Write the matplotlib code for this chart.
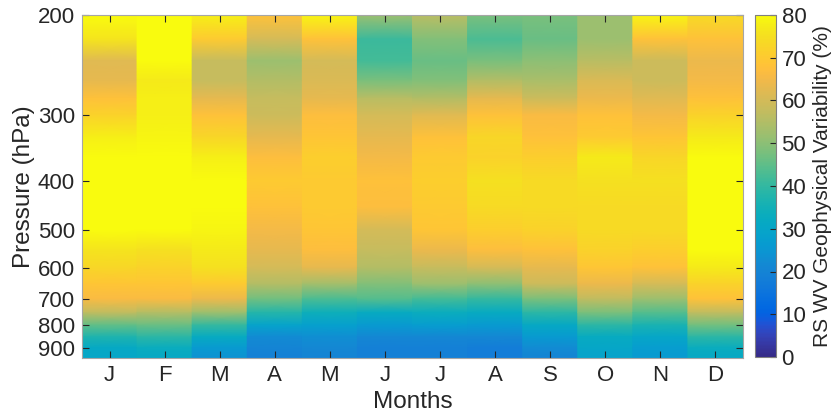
import numpy as np
import matplotlib
matplotlib.use("Agg")
import matplotlib.pyplot as plt
from matplotlib.colors import LinearSegmentedColormap

plt.rcParams['font.family'] = ['Liberation Sans', 'DejaVu Sans']

# ---- data ----
months = ['J', 'F', 'M', 'A', 'M', 'J', 'J', 'A', 'S', 'O', 'N', 'D']
levels = [200, 220, 240, 260, 280, 300, 330, 360, 400, 450,
          500, 550, 600, 650, 700, 750, 800, 850, 900, 950]

jan = [80, 76, 62, 63, 68, 72, 78, 80, 80, 80, 80, 76, 73, 69, 66, 57, 45, 37, 31, 30]
feb = [80, 80, 80, 77, 78, 78, 79, 80, 80, 80, 80, 75, 72, 69, 66, 55, 46, 39, 33, 31]
mar = [78, 70, 58, 58, 63, 68, 73, 78, 80, 80, 79, 77, 75, 70, 64, 52, 40, 32, 26, 24]
apr = [68, 60, 52, 55, 58, 59, 63, 67, 70, 68, 65, 63, 60, 55, 47, 38, 29, 22, 20, 19]
may = [79, 68, 60, 61, 63, 67, 69, 71, 70, 70, 69, 67, 63, 53, 43, 34, 28, 23, 21, 20]
jun = [52, 41, 42, 48, 56, 60, 63, 65, 68, 67, 60, 58, 55, 49, 44, 32, 26, 21, 19, 19]
jul = [56, 49, 46, 49, 55, 62, 68, 70, 71, 70, 69, 64, 58, 52, 42, 33, 27, 21, 19, 19]
aug = [48, 43, 48, 55, 63, 68, 73, 72, 75, 74, 71, 67, 60, 50, 40, 32, 26, 21, 18, 18]
sep = [48, 46, 50, 54, 59, 66, 68, 71, 74, 74, 72, 68, 63, 59, 48, 39, 31, 26, 22, 20]
oct_ = [52, 52, 56, 61, 64, 68, 70, 77, 75, 74, 74, 72, 69, 64, 57, 48, 39, 32, 30, 29]
nov = [79, 68, 59, 59, 62, 65, 69, 73, 75, 74, 74, 71, 68, 60, 52, 44, 36, 30, 27, 26]
dec = [74, 68, 64, 65, 68, 72, 77, 80, 80, 80, 80, 80, 77, 72, 68, 57, 47, 39, 33, 31]

data = np.array([jan, feb, mar, apr, may, jun, jul, aug, sep, oct_, nov, dec], dtype=float)

# parula-like colormap
_parula = [
    [0.2081, 0.1663, 0.5292], [0.2116, 0.1898, 0.5777], [0.2123, 0.2138, 0.6270],
    [0.2081, 0.2386, 0.6771], [0.1959, 0.2645, 0.7279], [0.1707, 0.2919, 0.7792],
    [0.1253, 0.3242, 0.8303], [0.0591, 0.3598, 0.8683], [0.0117, 0.3875, 0.8820],
    [0.0060, 0.4086, 0.8828], [0.0165, 0.4266, 0.8786], [0.0329, 0.4430, 0.8720],
    [0.0498, 0.4586, 0.8641], [0.0629, 0.4737, 0.8554], [0.0723, 0.4887, 0.8467],
    [0.0779, 0.5040, 0.8384], [0.0793, 0.5200, 0.8312], [0.0749, 0.5375, 0.8263],
    [0.0641, 0.5570, 0.8240], [0.0488, 0.5772, 0.8228], [0.0343, 0.5966, 0.8199],
    [0.0265, 0.6137, 0.8135], [0.0239, 0.6287, 0.8038], [0.0231, 0.6418, 0.7913],
    [0.0228, 0.6535, 0.7768], [0.0267, 0.6642, 0.7607], [0.0384, 0.6743, 0.7436],
    [0.0590, 0.6838, 0.7254], [0.0843, 0.6928, 0.7062], [0.1133, 0.7015, 0.6859],
    [0.1453, 0.7098, 0.6646], [0.1801, 0.7177, 0.6424], [0.2178, 0.7250, 0.6193],
    [0.2586, 0.7317, 0.5954], [0.3022, 0.7376, 0.5712], [0.3482, 0.7424, 0.5473],
    [0.3953, 0.7459, 0.5244], [0.4420, 0.7481, 0.5033], [0.4871, 0.7491, 0.4840],
    [0.5300, 0.7491, 0.4661], [0.5709, 0.7485, 0.4494], [0.6099, 0.7473, 0.4337],
    [0.6473, 0.7456, 0.4188], [0.6834, 0.7435, 0.4044], [0.7184, 0.7411, 0.3905],
    [0.7525, 0.7384, 0.3768], [0.7858, 0.7356, 0.3633], [0.8185, 0.7327, 0.3498],
    [0.8507, 0.7299, 0.3360], [0.8824, 0.7274, 0.3217], [0.9139, 0.7258, 0.3063],
    [0.9450, 0.7261, 0.2886], [0.9739, 0.7314, 0.2666], [0.9938, 0.7455, 0.2403],
    [0.9990, 0.7653, 0.2164], [0.9955, 0.7861, 0.1967], [0.9880, 0.8066, 0.1794],
    [0.9789, 0.8271, 0.1633], [0.9697, 0.8481, 0.1475], [0.9626, 0.8705, 0.1309],
    [0.9589, 0.8949, 0.1132], [0.9598, 0.9218, 0.0948], [0.9661, 0.9514, 0.0755],
    [0.9763, 0.9831, 0.0538]]
parula = LinearSegmentedColormap.from_list('parula', _parula)

fig = plt.figure(figsize=(8.32, 4.18), dpi=100)
ax = fig.add_axes([82/832, 1 - 358/418, 661/832, 343/418])

fwd = lambda p: -np.clip(p, 1e-3, None) ** -0.2
inv = lambda v: np.clip(-v, 1e-6, None) ** -5
ax.set_yscale('function', functions=(fwd, inv))

lev = np.array(levels, dtype=float)
for i in range(len(months)):
    X, Y = np.meshgrid([i + 0.5, i + 1.5], lev)
    C = np.column_stack([data[i], data[i]])
    m = ax.pcolormesh(X, Y, C, cmap=parula, vmin=0, vmax=80, shading='gouraud')

ax.set_xlim(0.5, 12.5)
ax.set_ylim(950, 200)
ax.set_xticks(np.arange(1, 13))
ax.set_xticklabels(months)
ax.set_yticks([200, 300, 400, 500, 600, 700, 800, 900])
ax.set_yticklabels(['200', '300', '400', '500', '600', '700', '800', '900'])
ax.yaxis.set_minor_locator(matplotlib.ticker.NullLocator())
ax.tick_params(direction='in', top=True, right=True, length=5, width=0.8,
               labelsize=16, colors='0.15', pad=5)
for s in ax.spines.values():
    s.set_color('0.65')
ax.set_xlabel('Months', fontsize=17.5, color='0.15', labelpad=4)
ax.set_ylabel('Pressure (hPa)', fontsize=17.5, color='0.15', labelpad=2)

cax = fig.add_axes([755/832, 1 - 357/418, 21/832, 342/418])
cb = fig.colorbar(m, cax=cax, ticks=np.arange(0, 81, 10))
cb.outline.set_edgecolor('0.5')
cax.tick_params(direction='in', length=4, labelsize=16, colors='0.15', pad=4)
cb.set_label('RS WV Geophysical Variability (%)', fontsize=15, color='0.15', labelpad=5)

fig.savefig('out.png', dpi=100)
